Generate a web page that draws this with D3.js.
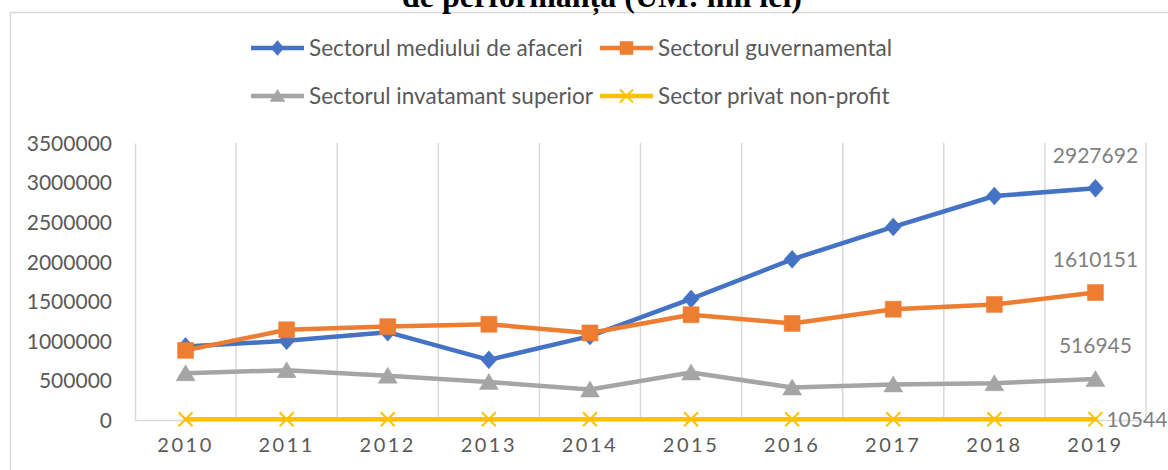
<!DOCTYPE html>
<html>
<head>
<meta charset="utf-8">
<script src="https://cdn.jsdelivr.net/npm/d3@7/dist/d3.min.js"></script>
<style>
  html, body { margin: 0; padding: 0; background: #fff; }
  svg { display: block; }
  text { font-family: Lato, "Open Sans", sans-serif; }
</style>
</head>
<body>
<svg id="chart" width="1168" height="470"></svg>
<script>
// Expenditure by sector of performance, 2010-2019 (thousand lei)
const years = ["2010", "2011", "2012", "2013", "2014", "2015", "2016", "2017", "2018", "2019"];
const afaceri   = [930000, 1000000, 1110000, 760000, 1060000, 1530000, 2030000, 2440000, 2830000, 2927692];
const guvern    = [880000, 1140000, 1180000, 1210000, 1100000, 1330000, 1220000, 1400000, 1460000, 1610151];
const superior  = [590000, 630000, 560000, 480000, 385000, 600000, 410000, 450000, 465000, 516945];
const nonprofit = [9000, 9500, 10000, 9800, 9500, 10200, 9900, 10300, 10400, 10544];
const yTicks = [0, 500000, 1000000, 1500000, 2000000, 2500000, 3000000, 3500000];
const seriesNames = ["Sectorul mediului de afaceri", "Sectorul guvernamental",
                     "Sectorul invatamant superior", "Sector privat non-profit"];
const titleText = "de performanță (UM: mii lei)";

const series = [
  { name: seriesNames[0], values: afaceri,   color: "#4472C4", marker: "diamond" },
  { name: seriesNames[1], values: guvern,    color: "#ED7D31", marker: "square" },
  { name: seriesNames[2], values: superior,  color: "#A5A5A5", marker: "triangle" },
  { name: seriesNames[3], values: nonprofit, color: "#FFC000", marker: "x" }
];

const svg = d3.select("#chart");
const plot = { left: 135, right: 1146, top: 143, bottom: 420 };

const x = d3.scaleBand().domain(years).range([plot.left, plot.right]).padding(0);
const y = d3.scaleLinear().domain([0, 3500000]).range([plot.bottom, plot.top]);
const cx = d => x(d) + x.bandwidth() / 2;

// chart frame (left and top edges visible)
svg.append("path")
  .attr("d", `M10.5,470 L10.5,12.5 L1168,12.5`)
  .attr("fill", "none").attr("stroke", "#D9D9D9").attr("stroke-width", 1.5);

// title (second line of a two-line heading, running past the top edge)
svg.append("text")
  .attr("x", 602).attr("y", 7)
  .attr("text-anchor", "middle")
  .style("font-family", "'Liberation Serif', 'Times New Roman', serif")
  .style("font-weight", "bold").style("font-size", "32px")
  .attr("fill", "#000")
  .text(titleText);

// vertical category gridlines
const bounds = years.map(d => x(d) + x.bandwidth());
svg.append("g").selectAll("line").data(bounds).join("line")
  .attr("x1", d => d).attr("x2", d => d)
  .attr("y1", plot.top).attr("y2", plot.bottom)
  .attr("stroke", "#D9D9D9").attr("stroke-width", 1.5);

// axes
const yAxis = d3.axisLeft(y).tickValues(yTicks).tickFormat(d3.format("d")).tickSize(0).tickPadding(23);
const gy = svg.append("g").attr("transform", `translate(${plot.left},0)`).call(yAxis);
gy.select(".domain").attr("stroke", "#D9D9D9").attr("stroke-width", 1.5);
gy.selectAll("text").attr("fill", "#595959").style("font-size", "21px").attr("dy", "0.35em");

const xAxis = d3.axisBottom(x).tickSize(0).tickPadding(18);
const gx = svg.append("g").attr("transform", `translate(0,${plot.bottom})`).call(xAxis);
gx.select(".domain").attr("stroke", "#D9D9D9").attr("stroke-width", 1.5);
gx.selectAll("text").attr("fill", "#595959").style("font-size", "20px")
  .style("letter-spacing", "2.5px").attr("dy", "0.7em");

// marker shapes
function markerPath(kind, s) {
  const h = s / 2;
  if (kind === "diamond") return `M0,${-h - 1}L${h},0L0,${h + 1}L${-h},0Z`;
  if (kind === "square") return `M${-h},${-h}H${h}V${h}H${-h}Z`;
  if (kind === "triangle") return `M0,${-h}L${h + 1},${h - 1}L${-h - 1},${h - 1}Z`;
  return `M${-h},${-h}L${h},${h}M${h},${-h}L${-h},${h}`;
}
const markerSize = { diamond: 16, square: 16, triangle: 17, x: 14 };

const line = d3.line().x((d, i) => cx(years[i])).y(d => y(d));

series.forEach(s => {
  const g = svg.append("g");
  g.append("path").datum(s.values)
    .attr("d", line)
    .attr("fill", "none").attr("stroke", s.color)
    .attr("stroke-width", 4.5).attr("stroke-linejoin", "round").attr("stroke-linecap", "round");
  g.selectAll("path.m").data(s.values).join("path").attr("class", "m")
    .attr("transform", (d, i) => `translate(${cx(years[i])},${y(d)})`)
    .attr("d", markerPath(s.marker, markerSize[s.marker]))
    .attr("fill", s.marker === "x" ? "none" : s.color)
    .attr("stroke", s.color)
    .attr("stroke-width", s.marker === "x" ? 2 : 0.5);
});

// value labels on the last year
const last = years.length - 1;
series.forEach((s, k) => {
  const v = s.values[last];
  const t = svg.append("text")
    .attr("fill", "#7F7F7F").style("font-size", "21px")
    .text(d3.format("d")(v));
  if (k < 3) {
    t.attr("x", cx(years[last])).attr("y", y(v) - 33).attr("dy", "0.35em").attr("text-anchor", "middle");
  } else {
    t.attr("x", cx(years[last]) + 11).attr("y", y(v)).attr("dy", "0.35em").attr("text-anchor", "start");
  }
});

// legend
const legendPos = [
  { lx: 251, ly: 48 }, { lx: 600, ly: 48 },
  { lx: 251, ly: 96 }, { lx: 600, ly: 96 }
];
series.forEach((s, i) => {
  const p = legendPos[i];
  const g = svg.append("g").attr("transform", `translate(${p.lx},${p.ly})`);
  g.append("line").attr("x1", 0).attr("x2", 53).attr("y1", 0).attr("y2", 0)
    .attr("stroke", s.color).attr("stroke-width", 4.5);
  g.append("path").attr("transform", "translate(26.5,0)")
    .attr("d", markerPath(s.marker, 13))
    .attr("fill", s.marker === "x" ? "none" : s.color)
    .attr("stroke", s.color).attr("stroke-width", s.marker === "x" ? 2 : 0.5);
  g.append("text").attr("x", 58).attr("y", 0).attr("dy", "0.35em")
    .attr("fill", "#595959").style("font-size", "22.5px")
    .text(s.name);
});
</script>
</body>
</html>
